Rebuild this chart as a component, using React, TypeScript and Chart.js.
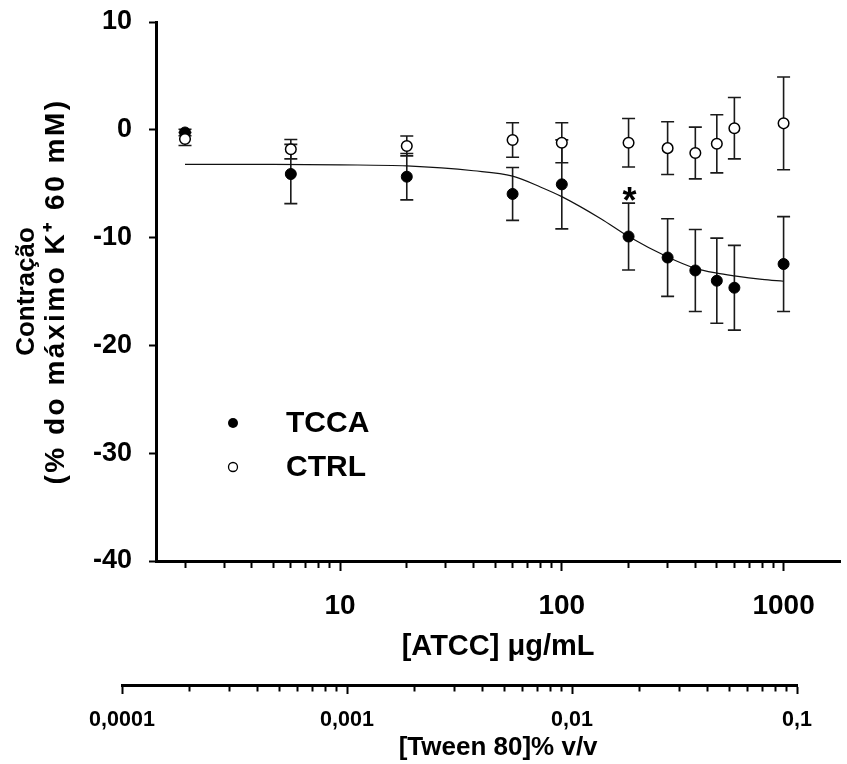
import React, { useEffect, useRef } from 'react';
import { Chart, registerables, LogarithmicScale, LinearScale } from 'chart.js';

Chart.register(...registerables);

// ---------- data ----------
const doses = [2, 6, 20, 60, 100, 200, 300, 400, 500, 600, 1000];
const tccaMean = [-0.25, -4.1, -4.35, -5.95, -5.06, -9.9, -11.85, -13.05, -14.0, -14.65, -12.45];
const tccaSem = [0.3, 2.75, 2.15, 2.45, 4.13, 3.1, 3.6, 3.8, 3.95, 3.93, 4.4];
const ctrlMean = [-0.85, -1.8, -1.5, -0.95, -1.2, -1.2, -1.7, -2.15, -1.3, 0.15, 0.6];
const ctrlSem = [0.6, 0.9, 0.92, 1.6, 1.85, 2.25, 2.45, 2.4, 2.7, 2.85, 4.3];

const fitDoses = [2, 5, 10, 20, 40, 60, 80, 100, 150, 200, 300, 400, 500, 600, 800, 1000];
const fitValues = [-3.2, -3.21, -3.25, -3.35, -3.8, -4.3, -5.3, -6.2, -8.25, -9.9, -11.8, -12.85, -13.3, -13.55, -13.87, -14.05];

const yTicks = [-40, -30, -20, -10, 0, 10];
const atccMajorTicks = [10, 100, 1000];
const atccMinorTicks = [2, 3, 4, 5, 6, 7, 8, 9, 20, 30, 40, 50, 60, 70, 80, 90, 200, 300, 400, 500, 600, 700, 800, 900];
const tweenMajorTicks = [0.0001, 0.001, 0.01, 0.1];
const tweenTickLabels = ['0,0001', '0,001', '0,01', '0,1'];
const tweenMinorTicks = [
  0.0002, 0.0003, 0.0004, 0.0005, 0.0006, 0.0007, 0.0008, 0.0009,
  0.002, 0.003, 0.004, 0.005, 0.006, 0.007, 0.008, 0.009,
  0.02, 0.03, 0.04, 0.05, 0.06, 0.07, 0.08, 0.09,
];
const seriesNames = ['TCCA', 'CTRL'];
const starIndex = 5;
const yTitleLine1 = 'Contração';
const yTitleLine2 = '(% do máximo K⁺ 60 mM)';
const xTitle = '[ATCC] μg/mL';
const tweenTitle = '[Tween 80]% v/v';

// ---------- layout ----------
const W = 847;
const H = 764;
const FONT = "'Liberation Sans', Arial, Helvetica, sans-serif";
const Y_LABEL1_WIDTH = 38;
const Y_AXIS_WIDTH = 118;
const X_AXIS_HEIGHT = 124;
const TWEEN_AXIS_HEIGHT = 79;
const TWEEN_PIXELS: [number, number] = [122, 797];

const PIXEL_RANGES: Record<string, [number, number]> = { tween: TWEEN_PIXELS };
const MAJOR_VALUES: Record<string, number[]> = { x: atccMajorTicks, tween: tweenMajorTicks };
const MINOR_LEN: Record<string, number> = { x: 5, tween: 4.5 };
const TITLE_SPACING: Record<string, number> = { y: 2.5 };

class AxisLogScale extends (LogarithmicScale as any) {
  static id = 'axisLog';
  configure() {
    const r = PIXEL_RANGES[(this as any).id];
    if (r) {
      (this as any).left = r[0];
      (this as any).right = r[1];
    }
    super.configure();
  }
  drawTitle() {
    const self = this as any;
    const r = PIXEL_RANGES[self.id];
    if (r && self.chart.chartArea) {
      const l = self.left;
      const rr = self.right;
      self.left = self.chart.chartArea.left;
      self.right = self.chart.chartArea.right;
      super.drawTitle();
      self.left = l;
      self.right = rr;
    } else {
      super.drawTitle();
    }
  }
  _computeGridLineItems(chartArea: any) {
    const items = super._computeGridLineItems(chartArea);
    const majors = MAJOR_VALUES[(this as any).id] || [];
    const px = majors.map((v) => (this as any).getPixelForValue(v));
    const len = MINOR_LEN[(this as any).id] ?? 5;
    for (const it of items) {
      const isMajor = px.some((p: number) => Math.abs(p - it.tx1) < 1.5);
      if (!isMajor) it.ty2 = it.ty1 + len;
    }
    return items;
  }
}

class SpacedTitleLinearScale extends (LinearScale as any) {
  static id = 'spacedLinear';
  drawTitle() {
    const self = this as any;
    const ls = TITLE_SPACING[self.id];
    if (ls) {
      const ctx = self.ctx;
      const prev = ctx.letterSpacing;
      ctx.letterSpacing = `${ls}px`;
      super.drawTitle();
      ctx.letterSpacing = prev || '0px';
    } else {
      super.drawTitle();
    }
  }
}
Chart.register(AxisLogScale as any, SpacedTitleLinearScale as any);

const zeroPad = (s: any) => {
  s.paddingLeft = 0;
  s.paddingRight = 0;
  s.paddingTop = 0;
  s.paddingBottom = 0;
};

const errorBarPlugin = {
  id: 'errorBars',
  beforeDatasetsDraw(chart: any) {
    const xs = chart.scales.x;
    const ys = chart.scales.y;
    const ctx = chart.ctx;
    ctx.save();
    ctx.strokeStyle = '#1a1a1a';
    ctx.lineWidth = 1.6;
    const cap = 6.5;
    const draw = (means: number[], sems: number[]) => {
      means.forEach((m, i) => {
        const x = xs.getPixelForValue(doses[i]);
        const yt = ys.getPixelForValue(m + sems[i]);
        const yb = ys.getPixelForValue(m - sems[i]);
        ctx.beginPath();
        ctx.moveTo(x, yt);
        ctx.lineTo(x, yb);
        ctx.moveTo(x - cap, yt);
        ctx.lineTo(x + cap, yt);
        ctx.moveTo(x - cap, yb);
        ctx.lineTo(x + cap, yb);
        ctx.stroke();
      });
    };
    draw(tccaMean, tccaSem);
    draw(ctrlMean, ctrlSem);
    ctx.restore();
  },
};

const annotationPlugin = {
  id: 'annotations',
  afterDatasetsDraw(chart: any) {
    const xs = chart.scales.x;
    const ys = chart.scales.y;
    const ctx = chart.ctx;
    ctx.save();
    ctx.fillStyle = '#000';
    ctx.font = `bold 36px ${FONT}`;
    ctx.textAlign = 'center';
    ctx.textBaseline = 'alphabetic';
    const sx = xs.getPixelForValue(doses[starIndex]);
    const capY = ys.getPixelForValue(tccaMean[starIndex] + tccaSem[starIndex]);
    const m = ctx.measureText('*');
    const base = capY - 2.5 - m.actualBoundingBoxDescent;
    ctx.fillText('*', sx + 1, base);

    const lx = 233;
    const ly = [423, 467];
    ctx.font = `bold 30px ${FONT}`;
    ctx.textAlign = 'left';
    ctx.textBaseline = 'middle';
    seriesNames.forEach((name, i) => {
      ctx.beginPath();
      ctx.arc(lx, ly[i], i === 0 ? 5 : 4.5, 0, Math.PI * 2);
      if (i === 0) {
        ctx.fillStyle = '#000';
        ctx.fill();
      } else {
        ctx.fillStyle = '#fff';
        ctx.fill();
        ctx.lineWidth = 1.3;
        ctx.strokeStyle = '#000';
        ctx.stroke();
      }
      ctx.fillStyle = '#000';
      ctx.fillText(name, 286, ly[i] + 1);
    });
    ctx.restore();
  },
};

export default function App() {
  const ref = useRef<HTMLCanvasElement>(null);

  useEffect(() => {
    if (!ref.current) return;
    Chart.defaults.font.family = FONT;
    Chart.defaults.color = '#000';

    const chart = new Chart(ref.current, {
      type: 'scatter',
      data: {
        datasets: [
          {
            label: seriesNames[0],
            data: doses.map((x, i) => ({ x, y: tccaMean[i] })),
            backgroundColor: '#000',
            borderColor: '#000',
            borderWidth: 1,
            pointRadius: 5.5,
            order: 1,
          },
          {
            label: seriesNames[1],
            data: doses.map((x, i) => ({ x, y: ctrlMean[i] })),
            backgroundColor: '#fff',
            borderColor: '#000',
            borderWidth: 1.5,
            pointRadius: 5.3,
            order: 0,
          },
          {
            label: 'fit',
            data: fitDoses.map((x, i) => ({ x, y: fitValues[i] })),
            showLine: true,
            borderColor: '#111',
            borderWidth: 1.2,
            pointRadius: 0,
            cubicInterpolationMode: 'monotone',
            order: 2,
          } as any,
        ],
      },
      options: {
        responsive: false,
        animation: false,
        devicePixelRatio: 1,
        layout: { padding: { left: 0, right: 2, top: 22, bottom: 0 } },
        plugins: { legend: { display: false }, tooltip: { enabled: false } },
        scales: {
          x: {
            type: 'axisLog' as any,
            position: 'bottom',
            weight: 0,
            min: 1.48,
            max: 1800,
            bounds: 'data',
            afterBuildTicks: (s: any) => {
              s.ticks = [...atccMinorTicks, ...atccMajorTicks].sort((a, b) => a - b).map((v) => ({ value: v }));
            },
            afterFit: (s: any) => {
              s.height = X_AXIS_HEIGHT;
              zeroPad(s);
            },
            ticks: {
              autoSkip: false,
              maxRotation: 0,
              padding: 18.2,
              color: '#000',
              font: { size: 28, weight: 'bold' },
              callback: (v: any) => (atccMajorTicks.includes(Number(v)) ? String(v) : ''),
            },
            grid: { drawOnChartArea: false, tickLength: 10, tickWidth: 2, tickColor: '#000', color: '#000' },
            border: { display: true, width: 3, color: '#000' },
            title: {
              display: true,
              text: xTitle,
              color: '#000',
              font: { size: 29, weight: 'bold' },
              padding: { top: 0, bottom: 20.6 },
            },
          } as any,
          tween: {
            type: 'axisLog' as any,
            axis: 'x',
            position: 'bottom',
            weight: 1,
            min: 0.0001,
            max: 0.1,
            bounds: 'data',
            afterBuildTicks: (s: any) => {
              s.ticks = [...tweenMinorTicks, ...tweenMajorTicks].sort((a, b) => a - b).map((v) => ({ value: v }));
            },
            afterFit: (s: any) => {
              s.height = TWEEN_AXIS_HEIGHT;
              zeroPad(s);
            },
            ticks: {
              autoSkip: false,
              maxRotation: 0,
              padding: 13.1,
              color: '#000',
              font: { size: 21.5, weight: 'bold' },
              callback: (v: any) => {
                const idx = tweenMajorTicks.indexOf(Number(v));
                return idx >= 0 ? tweenTickLabels[idx] : '';
              },
            },
            grid: { drawOnChartArea: false, tickLength: 9, tickWidth: 2, tickColor: '#000', color: '#000' },
            border: { display: true, width: 3, color: '#000' },
            title: {
              display: true,
              text: tweenTitle,
              color: '#000',
              font: { size: 26, weight: 'bold' },
              padding: { top: 0, bottom: 0.4 },
            },
          } as any,
          y: {
            type: 'spacedLinear' as any,
            position: 'left',
            weight: 0,
            min: -40,
            max: 10,
            afterBuildTicks: (s: any) => {
              s.ticks = yTicks.map((v) => ({ value: v }));
            },
            afterFit: (s: any) => {
              s.width = Y_AXIS_WIDTH;
              zeroPad(s);
            },
            ticks: {
              padding: 17,
              color: '#000',
              font: { size: 27, weight: 'bold' },
              callback: (v: any) => String(v),
            },
            grid: { drawOnChartArea: false, tickLength: 7, tickWidth: 2, tickColor: '#000', color: '#000' },
            border: { display: true, width: 3, color: '#000' },
            title: {
              display: true,
              text: yTitleLine2,
              color: '#000',
              font: { size: 28, weight: 'bold', lineHeight: 1.15 },
              padding: { top: 1.9, bottom: 0 },
            },
          } as any,
          yLabel: {
            type: 'linear',
            axis: 'y',
            position: 'left',
            weight: 1,
            min: -40,
            max: 10,
            afterFit: (s: any) => {
              s.width = Y_LABEL1_WIDTH;
              zeroPad(s);
            },
            ticks: { display: false },
            grid: { display: false, drawTicks: false },
            border: { display: false },
            title: {
              display: true,
              text: yTitleLine1,
              color: '#000',
              font: { size: 26, weight: 'bold', lineHeight: 1.15 },
              padding: { top: 12, bottom: 0 },
            },
          } as any,
        },
      },
      plugins: [errorBarPlugin, annotationPlugin],
    } as any);

    return () => chart.destroy();
  }, []);

  return (
    <div style={{ position: 'absolute', left: 0, top: 0, width: W, height: H, background: '#fff' }}>
      <canvas ref={ref} width={W} height={H} style={{ display: 'block', width: W, height: H }} />
    </div>
  );
}
